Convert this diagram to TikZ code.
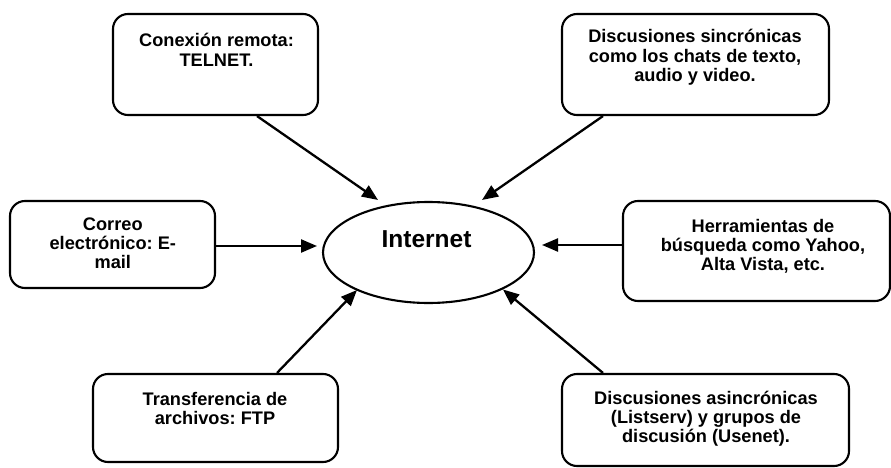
\documentclass[tikz,border=0pt]{standalone}
\usepackage{fontspec}
\setmainfont{Liberation Sans}
\usetikzlibrary{shapes.geometric,arrows.meta}
\frenchspacing

\begin{document}
\begin{tikzpicture}[x=1pt,y=1pt,
  box/.style={draw,line width=2.1pt,rounded corners=15pt,inner sep=0pt},
  lbl/.style={font=\fontsize{18.2}{19.4}\selectfont\bfseries,align=center,anchor=base,inner sep=0pt},
  arr/.style={line width=2.3pt,-{Triangle[length=16pt,width=13pt]}}]
\useasboundingbox (0,0) rectangle (891,-468);

% central hub
\node[draw,ellipse,line width=2.1pt,minimum width=211pt,minimum height=101pt,inner sep=0pt] (net) at (428.5,-252.5) {};
\node[font=\fontsize{24.5}{26}\selectfont\bfseries,anchor=base,inner sep=0pt] (nettxt) at (426.5,-247) {Internet};

% service boxes
\node[box,minimum width=205pt,minimum height=101pt] (A) at (215.5,-64.5) {};
\node[box,minimum width=267pt,minimum height=101pt] (B) at (695.5,-64.5) {};
\node[box,minimum width=205pt,minimum height=87pt]  (C) at (112.5,-244.5) {};
\node[box,minimum width=267pt,minimum height=100pt] (D) at (756.5,-251) {};
\node[box,minimum width=245pt,minimum height=88pt]  (E) at (215.5,-418) {};
\node[box,minimum width=287pt,minimum height=92pt]  (F) at (705.5,-420) {};

% box texts (anchored at the baseline of the last line)
\node[lbl] (At) at (216.5,-66.4) {Conexión remota:\\TELNET.};
\node[lbl] (Bt) at (695,-81.8) {Discusiones sincrónicas\\como los chats de texto,\\audio y video.};
\node[lbl] (Ct) at (112.8,-268.8) {Correo\\electrónico: E-\\mail};
\node[lbl] (Dt) at (763,-270.8) {Herramientas de\\búsqueda como Yahoo,\\Alta Vista, etc.};
\node[lbl] (Et) at (215,-424.4) {Transferencia de\\archivos: FTP};
\node[lbl] (Ft) at (706,-442.8) {Discusiones asincrónicas\\(Listserv) y grupos de\\discusión (Usenet).};

% arrow tips near the hub
\coordinate (tA) at (378,-200);
\coordinate (tB) at (482,-200);
\coordinate (tC) at (317,-246);
\coordinate (tD) at (542,-245);
\coordinate (tE) at (357,-290);
\coordinate (tF) at (503,-289.5);

\draw[arr] ([xshift=41.5pt]A.south) -- (tA);
\draw[arr] ([xshift=-92.5pt]B.south) -- (tB);
\draw[arr] ([yshift=-1.5pt]C.east) -- (tC);
\draw[arr] ([yshift=6pt]D.west) -- (tD);
\draw[arr] ([xshift=61.5pt]E.north) -- (tE);
\draw[arr] ([xshift=-102.5pt]F.north) -- (tF);
\end{tikzpicture}
\end{document}
